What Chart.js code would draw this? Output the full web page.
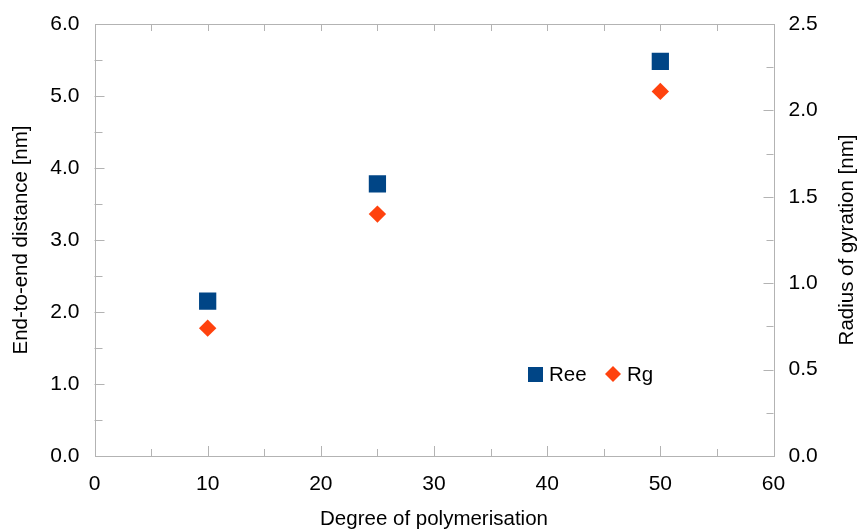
<!DOCTYPE html>
<html>
<head>
<meta charset="utf-8">
<script src="https://cdn.jsdelivr.net/npm/chart.js@4/dist/chart.umd.min.js"></script>
<style>
  html, body { margin: 0; padding: 0; background: #fff; }
  #wrap { width: 859px; height: 530px; position: relative; }
</style>
</head>
<body>
<div id="wrap"><canvas id="chart"></canvas></div>
<script>
const DEGREES = [10, 25, 50];
const REE_NM = [2.15, 3.78, 5.48];
const RG_NM = [0.74, 1.40, 2.11];
const SERIES_LABELS = ["Ree", "Rg"];
const SERIES_COLORS = ["#004586", "#ff420e"];

const AXIS_COLOR = "#b3b3b3";
const FONT = "'Liberation Sans', Arial, sans-serif";

// frame + inward tick marks like the office-style chart
const framePlugin = {
  id: "frame",
  beforeDatasetsDraw(chart) {
    const { ctx, chartArea: a, scales } = chart;
    ctx.save();
    ctx.strokeStyle = AXIS_COLOR;
    ctx.lineWidth = 1;
    ctx.strokeRect(Math.round(a.left) + 0.5, Math.round(a.top) + 0.5, Math.round(a.width), Math.round(a.height));
    ctx.beginPath();
    const x = scales.x, y = scales.y, y2 = scales.y2;
    for (let v = x.min + 5; v < x.max; v += 5) {
      const px = Math.round(x.getPixelForValue(v)) + 0.5;
      const len = v % 10 === 0 ? 10 : 7;
      ctx.moveTo(px, a.bottom); ctx.lineTo(px, a.bottom - len);
      ctx.moveTo(px, a.top); ctx.lineTo(px, a.top + 7);
    }
    for (let v = y.min + 0.5; v < y.max; v += 0.5) {
      const py = Math.round(y.getPixelForValue(v)) + 0.5;
      const len = v % 1 === 0 ? 10 : 8;
      ctx.moveTo(a.left, py); ctx.lineTo(a.left + len, py);
    }
    for (let v = y2.min + 0.25; v < y2.max - 0.01; v += 0.25) {
      const py = Math.round(y2.getPixelForValue(v)) + 0.5;
      const len = Math.abs(v % 0.5) < 0.01 ? 10 : 7;
      ctx.moveTo(a.right, py); ctx.lineTo(a.right - len, py);
    }
    ctx.stroke();
    ctx.restore();
  },
  afterDraw(chart) {
    const { ctx, chartArea: a } = chart;
    ctx.save();
    // right axis title reads bottom-to-top
    ctx.fillStyle = "#000";
    ctx.font = `20.5px ${FONT}`;
    ctx.textAlign = "center";
    ctx.textBaseline = "middle";
    ctx.translate(847, (a.top + a.bottom) / 2);
    ctx.rotate(-Math.PI / 2);
    ctx.fillText("Radius of gyration [nm]", 0, 0);
    ctx.restore();

    // legend inside the plot
    ctx.save();
    ctx.font = `20.5px ${FONT}`;
    ctx.textBaseline = "middle";
    ctx.textAlign = "left";
    const ly = 374;
    ctx.fillStyle = SERIES_COLORS[0];
    ctx.fillRect(528, ly - 7, 15, 15);
    ctx.fillStyle = "#000";
    ctx.fillText(SERIES_LABELS[0], 549, ly + 1);
    ctx.fillStyle = SERIES_COLORS[1];
    ctx.beginPath();
    ctx.moveTo(613, ly - 8); ctx.lineTo(621, ly); ctx.lineTo(613, ly + 8); ctx.lineTo(605, ly);
    ctx.closePath(); ctx.fill();
    ctx.fillStyle = "#000";
    ctx.fillText(SERIES_LABELS[1], 627, ly + 1);
    ctx.restore();
  }
};

const tickFont = { family: FONT, size: 21 };
const titleFont = { family: FONT, size: 20.5, lineHeight: 1 };

new Chart(document.getElementById("chart"), {
  type: "scatter",
  data: {
    datasets: [
      {
        label: SERIES_LABELS[0],
        data: DEGREES.map((d, i) => ({ x: d, y: REE_NM[i] })),
        yAxisID: "y",
        pointStyle: "rect",
        pointRadius: 12.2,
        backgroundColor: SERIES_COLORS[0],
        borderColor: SERIES_COLORS[0],
        borderWidth: 0,
      },
      {
        label: SERIES_LABELS[1],
        data: DEGREES.map((d, i) => ({ x: d, y: RG_NM[i] })),
        yAxisID: "y2",
        pointStyle: "rectRot",
        pointRadius: 8.7,
        backgroundColor: SERIES_COLORS[1],
        borderColor: SERIES_COLORS[1],
        borderWidth: 0,
      },
    ],
  },
  options: {
    responsive: true,
    maintainAspectRatio: false,
    animation: false,
    events: [],
    layout: { padding: { top: 24, left: 0, right: 0, bottom: 0 } },
    plugins: { legend: { display: false }, tooltip: { enabled: false } },
    scales: {
      x: {
        type: "linear",
        min: 0, max: 60,
        grid: { display: false },
        border: { display: false },
        ticks: { stepSize: 10, color: "#000", font: tickFont, padding: 8, maxRotation: 0 },
        title: { display: true, text: "Degree of polymerisation", color: "#000", font: titleFont, padding: { top: 0, bottom: 0.5 } },
        afterFit(s) { s.height = 74; },
      },
      y: {
        position: "left",
        min: 0, max: 6,
        grid: { display: false },
        border: { display: false },
        ticks: { stepSize: 1, color: "#000", font: tickFont, padding: 7, callback: v => v.toFixed(1) },
        title: { display: true, text: "End-to-end distance [nm]", color: "#000", font: titleFont, padding: { top: 11.5, bottom: 0 } },
        afterFit(s) { s.width = 94.5; },
      },
      y2: {
        position: "right",
        min: 0, max: 2.5,
        grid: { display: false },
        border: { display: false },
        ticks: { stepSize: 0.5, color: "#000", font: tickFont, padding: 7, callback: v => v.toFixed(1) },
        afterFit(s) { s.width = 85.5; },
      },
    },
  },
  plugins: [framePlugin],
});
</script>
</body>
</html>
